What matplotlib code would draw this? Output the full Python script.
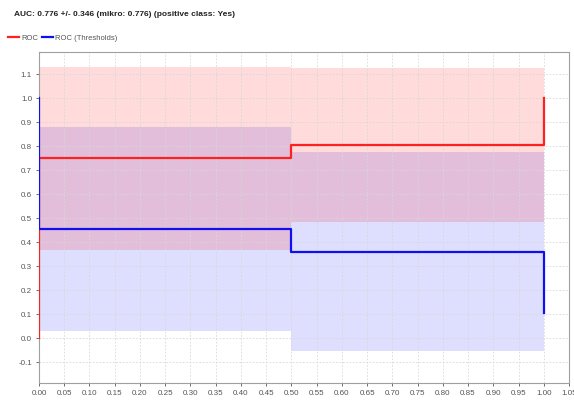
import matplotlib
matplotlib.use("Agg")
import matplotlib.pyplot as plt
import numpy as np

plt.rcParams['font.family'] = ['Liberation Sans', 'DejaVu Sans']

title = "AUC: 0.776 +/- 0.346 (mikro: 0.776) (positive class: Yes)"

# ROC step curve
roc_x = [0.0, 0.0, 0.5, 0.5, 1.0, 1.0]
roc_y = [0.0, 0.75, 0.75, 0.805, 0.805, 1.0]
# Thresholds step curve
thr_x = [0.0, 0.0, 0.5, 0.5, 1.0, 1.0]
thr_y = [1.0, 0.455, 0.455, 0.36, 0.36, 0.104]

# bands: segment x-ranges with lower/upper
band_x = [0.0, 0.5, 1.0]
roc_lo = [0.365, 0.485]
roc_hi = [1.13, 1.125]
thr_lo = [0.03, -0.055]
thr_hi = [0.88, 0.776]

x_ticks = np.round(np.arange(0, 1.051, 0.05), 2)
y_ticks = np.round(np.arange(-0.1, 1.101, 0.1), 1)

fig = plt.figure(figsize=(5.74, 4.03), dpi=100)
ax = fig.add_axes([39/574, 1-383/403, (569-39)/574, (383-52)/403])

for i in range(2):
    ax.fill_between([band_x[i], band_x[i+1]], thr_lo[i], thr_hi[i],
                    color=(0.0, 0.0, 1.0), alpha=0.13, linewidth=0, zorder=1)
for i in range(2):
    ax.fill_between([band_x[i], band_x[i+1]], roc_lo[i], roc_hi[i],
                    color=(1.0, 0.0, 0.0), alpha=0.14, linewidth=0, zorder=1)

ax.plot(roc_x, roc_y, color='#ff2020', lw=1.6, zorder=3, label='ROC')
ax.plot(thr_x, thr_y, color='#1010ee', lw=1.6, zorder=3, label='ROC (Thresholds)')

ax.set_xlim(0, 1.05)
ax.set_ylim(-0.1875, 1.192)
ax.set_xticks(x_ticks)
ax.set_xticklabels([f"{v:.2f}" for v in x_ticks])
ax.set_yticks(y_ticks)
ax.set_yticklabels([f"{v:.1f}" for v in y_ticks])
ax.tick_params(labelsize=5.8, colors='#555555', length=2, width=0.6, pad=3)
ax.grid(True, color='#d8d8d8', linestyle=(0, (2, 2)), linewidth=0.6, zorder=0)
for s in ax.spines.values():
    s.set_color('#a0a0a0')
    s.set_linewidth(0.8)

fig.text(14/574, 1-15/403, title, fontsize=6.0, fontweight='bold',
         ha='left', va='center', color='#222222')

leg = fig.legend(loc='center left', bbox_to_anchor=(8/574, 1-38/403), ncol=2,
                 frameon=False, fontsize=5.5, handlelength=1.5, handletextpad=0.2,
                 columnspacing=0.5, borderaxespad=0, borderpad=0)
for t in leg.get_texts():
    t.set_color('#555555')

fig.savefig("out.png", dpi=100)
